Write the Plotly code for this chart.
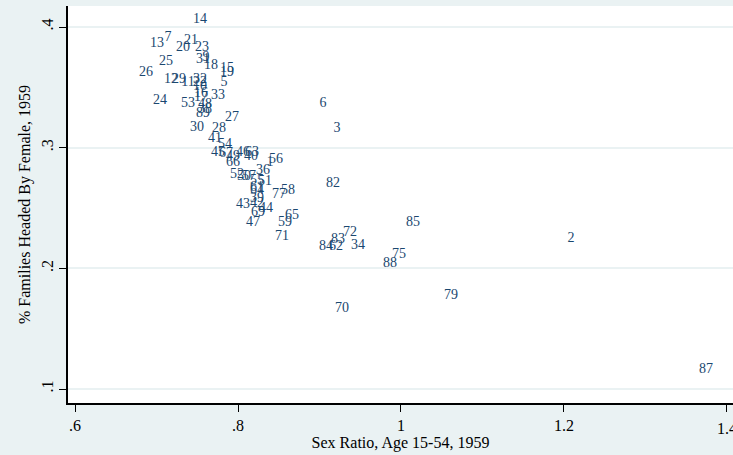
import plotly.graph_objects as go

# Marker labels (observation ids) and their positions
labels = ["14", "13", "7", "20", "21", "23", "25", "31", "9", "18", "15", "19", "26",
          "12", "29", "11", "32", "22", "10", "5", "16", "17", "33", "24", "53", "48",
          "38", "89", "27", "30", "28", "41", "54", "45", "67", "49", "46", "63", "40",
          "56", "1", "66", "36", "52", "50", "57", "55", "51", "61", "64", "77", "58",
          "39", "42", "43", "44", "69", "47", "65", "59", "71", "6", "3", "82", "85",
          "72", "83", "84", "62", "34", "75", "88", "79", "70", "2", "87"]
sex_ratio = [0.7534, 0.7006, 0.7141, 0.7325, 0.7423, 0.7558, 0.7117, 0.7571, 0.7607,
             0.7669, 0.7865, 0.7865, 0.6871, 0.7178, 0.7276, 0.7387, 0.7534, 0.7534,
             0.7534, 0.7828, 0.7546, 0.7546, 0.7755, 0.7043, 0.7387, 0.7595, 0.7595,
             0.7571, 0.7926, 0.7497, 0.7767, 0.7718, 0.7840, 0.7755, 0.7853, 0.7939,
             0.8061, 0.8172, 0.8160, 0.8466, 0.8393, 0.7939, 0.8307, 0.7988, 0.8074,
             0.8135, 0.8233, 0.8331, 0.8233, 0.8233, 0.8503, 0.8613, 0.8233, 0.8233,
             0.8061, 0.8344, 0.8245, 0.8184, 0.8663, 0.8577, 0.8540, 0.9043, 0.9215,
             0.9166, 1.0147, 0.9374, 0.9227, 0.9080, 0.9202, 0.9472, 0.9975, 0.9865,
             1.0613, 0.9276, 1.2086, 1.3742]
pct_female_head = [0.4066, 0.3867, 0.3917, 0.3826, 0.3884, 0.3834, 0.3710, 0.3727,
                   0.3751, 0.3685, 0.3652, 0.3619, 0.3619, 0.3561, 0.3561, 0.3536,
                   0.3569, 0.3536, 0.3511, 0.3544, 0.3453, 0.3412, 0.3436, 0.3395,
                   0.3362, 0.3354, 0.3320, 0.3287, 0.3246, 0.3171, 0.3155, 0.3080,
                   0.3030, 0.2956, 0.2948, 0.2923, 0.2964, 0.2956, 0.2923, 0.2906,
                   0.2881, 0.2873, 0.2807, 0.2774, 0.2757, 0.2765, 0.2732, 0.2716,
                   0.2666, 0.2641, 0.2616, 0.2641, 0.2575, 0.2541, 0.2525, 0.2492,
                   0.2459, 0.2376, 0.2434, 0.2376, 0.2260, 0.3370, 0.3163, 0.2699,
                   0.2376, 0.2301, 0.2243, 0.2185, 0.2185, 0.2193, 0.2111, 0.2044,
                   0.1779, 0.1671, 0.2251, 0.1158]

x_ticks = [0.6, 0.8, 1.0, 1.2, 1.4]
x_ticklabels = [".6", ".8", "1", "1.2", "1.4"]
y_ticks = [0.1, 0.2, 0.3, 0.4]
y_ticklabels = [".1", ".2", ".3", ".4"]

BG = "#eaf2f3"
NAVY = "#1a476f"
FONT = "Liberation Serif, Times New Roman, serif"

fig = go.Figure()
fig.add_trace(go.Scatter(
    x=sex_ratio, y=pct_female_head, mode="text", text=labels,
    textposition="middle center",
    textfont=dict(family=FONT, size=14, color=NAVY),
    hoverinfo="skip", showlegend=False,
))

fig.update_layout(
    width=733, height=455,
    paper_bgcolor=BG, plot_bgcolor="white",
    margin=dict(l=68, r=0, t=6, b=52),
    font=dict(family=FONT, size=16, color="black"),
    xaxis=dict(
        range=[0.5914, 1.4074], tickvals=x_ticks, ticktext=x_ticklabels,
        showgrid=False, zeroline=False, showline=True, linecolor="black", linewidth=1.5,
        ticks="outside", ticklen=7, tickwidth=1.2, tickcolor="black",
        tickfont=dict(family=FONT, size=16), automargin=False,
        title=dict(text="Sex Ratio, Age 15-54, 1959", font=dict(family=FONT, size=16), standoff=0),
    ),
    yaxis=dict(
        range=[0.0884, 0.4174], tickvals=y_ticks, ticktext=y_ticklabels,
        showgrid=True, gridcolor=BG, gridwidth=2, zeroline=False,
        showline=True, linecolor="black", linewidth=1.5,
        ticks="outside", ticklen=7, tickwidth=1.2, tickcolor="black",
        tickangle=-90, tickfont=dict(family=FONT, size=16), automargin=False,
        title=dict(text="% Families Headed By Female, 1959", font=dict(family=FONT, size=16), standoff=4),
    ),
)

# The last tick label sits at the clipped right edge; draw it explicitly
last_tick_visible = [(v, t) for v, t in zip(x_ticks, x_ticklabels)][-1:]
for v, t in last_tick_visible:
    fig.add_annotation(x=v, xref="x", y=0, yref="paper", text=t, showarrow=False,
                       xanchor="center", yanchor="middle", yshift=-25,
                       font=dict(family=FONT, size=16, color="black"))

fig.write_html(
    "out.html",
    config={"displayModeBar": False},
    post_script="document.body.style.margin='0';document.body.style.background='#eaf2f3';",
)
